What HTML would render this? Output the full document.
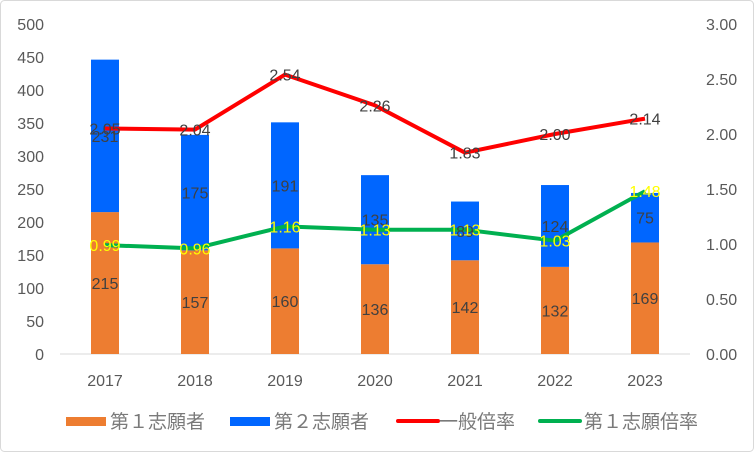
<!DOCTYPE html>
<html><head><meta charset="utf-8"><style>
body{margin:0;background:#fff;}
svg text{font-family:"Liberation Sans","Noto Sans CJK JP",sans-serif;}
</style></head><body>
<svg id="chart" width="754" height="452" xmlns="http://www.w3.org/2000/svg">
<rect x="0.5" y="0.5" width="753" height="451" rx="4" fill="#fff" stroke="#d9d9d9"/>
<g id="axes"></g><g id="bars"></g><g id="lines"></g><g id="labels"></g><g id="legend"></g>
</svg>
<script>
const categories=["2017","2018","2019","2020","2021","2022","2023"];
const first=[215,157,160,136,142,132,169];
const second=[231,175,191,135,89,124,75];
const generalRate=[2.05,2.04,2.54,2.26,1.83,2.00,2.14];
const firstRate=[0.99,0.96,1.16,1.13,1.13,1.03,1.48];
const leftTicks=[0,50,100,150,200,250,300,350,400,450,500];
const rightTicks=[0,0.5,1,1.5,2,2.5,3];
const NS="http://www.w3.org/2000/svg";
const y0=354,yTop=24;
const yL=v=>y0-(y0-yTop)*v/500;
const yR=v=>y0-(y0-yTop)*v/3;
const xC=i=>105+i*90;
function mk(tag,attrs,parent,text){const e=document.createElementNS(NS,tag);for(const k in attrs)e.setAttribute(k,attrs[k]);if(text!==undefined)e.textContent=text;document.getElementById(parent).appendChild(e);return e;}
let e;
e=mk('line',{x1:60,x2:690,y1:y0,y2:y0,stroke:'#d9d9d9'},'axes');


leftTicks.forEach(t=>{e=mk('text',{x:44,y:yL(t)+6,'text-anchor':'end','font-size':16,fill:'#595959'},'axes',String(t));

});
rightTicks.forEach(t=>{e=mk('text',{x:706,y:yR(t)+6,'font-size':16,fill:'#595959'},'axes',t.toFixed(2));

});
categories.forEach((c,i)=>{e=mk('text',{x:xC(i),y:386,'text-anchor':'middle','font-size':16,fill:'#595959'},'axes',c);

});
const bw=28;
categories.forEach((c,i)=>{
 e=mk('rect',{x:xC(i)-bw/2,y:yL(first[i]),width:bw,height:y0-yL(first[i]),fill:'#ed7d31'},'bars');
 
 
 const top=first[i]+second[i];
 e=mk('rect',{x:xC(i)-bw/2,y:yL(top),width:bw,height:yL(first[i])-yL(top),fill:'#0066ff'},'bars');
 
 
 e=mk('text',{x:xC(i),y:(yL(first[i])+y0)/2+6,'text-anchor':'middle','font-size':16,fill:'#404040'},'labels',String(first[i]));
 
 
 e=mk('text',{x:xC(i),y:(yL(first[i])+yL(top))/2+6,'text-anchor':'middle','font-size':16,fill:'#404040'},'labels',String(second[i]));
 
 
});
function line(arr,color,name,lblColor){
 e=mk('polyline',{points:arr.map((v,i)=>xC(i)+','+yR(v)).join(' '),fill:'none',stroke:color,'stroke-width':4,'stroke-linejoin':'round'},'lines');
 
 
 arr.forEach((v,i)=>{e=mk('text',{x:xC(i),y:yR(v)+6,'text-anchor':'middle','font-size':16,fill:lblColor},'labels',v.toFixed(2));
 
 });
}
line(generalRate,'#ff0000','general-rate-line','#404040');
line(firstRate,'#00b050','first-rate-line','#ffff00');
const leg=[['第１志願者','#ed7d31','rect',66,110],['第２志願者','#0066ff','rect',230,274],['一般倍率','#ff0000','line',396,439],['第１志願倍率','#00b050','line',538,584]];
leg.forEach(l=>{
 if(l[2]==='rect'){e=mk('rect',{x:l[3],y:417,width:40,height:9,fill:l[1]},'legend');}
 else{e=mk('line',{x1:l[3]+2,x2:l[3]+42,y1:421,y2:421,stroke:l[1],'stroke-width':4,'stroke-linecap':'round'},'legend');}
 
 
 e=mk('text',{x:l[4],y:428,'font-size':19,fill:'#7a7a7a'},'legend',l[0]);
 
 
});
</script>
</body></html>
